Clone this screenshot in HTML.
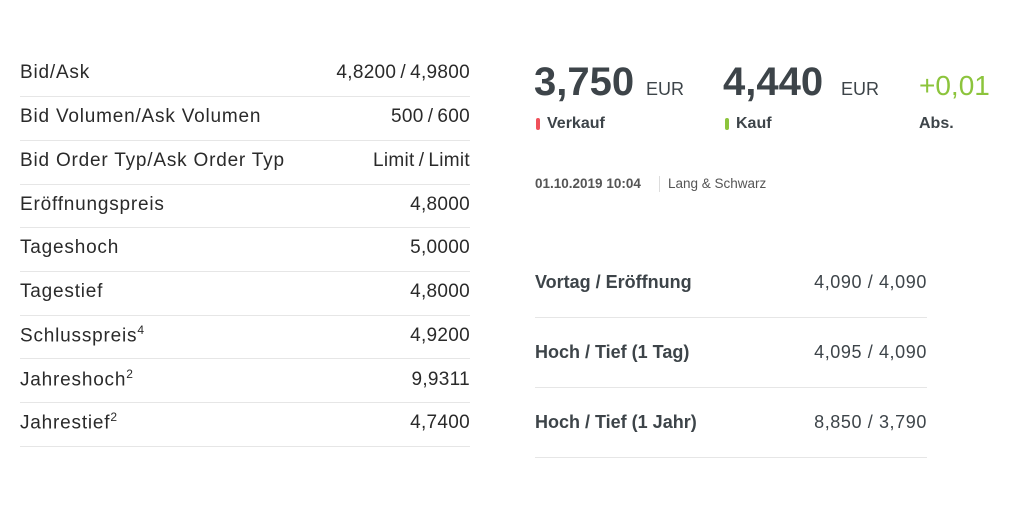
<!DOCTYPE html>
<html><head><meta charset="utf-8"><style>
body{margin:0;width:1024px;height:530px;background:#fff;position:relative;overflow:hidden;font-family:"Liberation Sans",sans-serif}
.a{position:absolute;white-space:nowrap}
.l{left:20px;font-size:19px;color:#2a2a2a;letter-spacing:0.8px}
.r{right:554px;font-size:19px;color:#2a2a2a;text-align:right;letter-spacing:0.3px}
.ln{position:absolute;height:1px;background:#e6e6e6}
.big{font-size:40px;font-weight:bold;color:#3d4449}
.eur{font-size:18px;color:#3d4449}
.lab{font-size:16px;font-weight:bold;color:#3d4449}
.rl{left:535px;font-size:18px;font-weight:bold;color:#3d4449}
.rv{right:97px;font-size:18px;color:#3d4449;letter-spacing:0.6px}
sup{font-size:12px}
</style></head><body>
<div class="a l" style="top:62px">Bid/Ask</div><div class="a r" style="top:62px">4,8200&#8201;/&#8201;4,9800</div>
<div class="ln" style="left:20px;width:450px;top:96px"></div>
<div class="a l" style="top:106px">Bid Volumen/Ask Volumen</div><div class="a r" style="top:106px">500&#8201;/&#8201;600</div>
<div class="ln" style="left:20px;width:450px;top:140px"></div>
<div class="a l" style="top:150px">Bid Order Typ/Ask Order Typ</div><div class="a r" style="top:150px">Limit&#8201;/&#8201;Limit</div>
<div class="ln" style="left:20px;width:450px;top:184px"></div>
<div class="a l" style="top:194px">Eröffnungspreis</div><div class="a r" style="top:194px">4,8000</div>
<div class="ln" style="left:20px;width:450px;top:227px"></div>
<div class="a l" style="top:237px">Tageshoch</div><div class="a r" style="top:237px">5,0000</div>
<div class="ln" style="left:20px;width:450px;top:271px"></div>
<div class="a l" style="top:281px">Tagestief</div><div class="a r" style="top:281px">4,8000</div>
<div class="ln" style="left:20px;width:450px;top:315px"></div>
<div class="a l" style="top:323px">Schlusspreis<sup>4</sup></div><div class="a r" style="top:325px">4,9200</div>
<div class="ln" style="left:20px;width:450px;top:358px"></div>
<div class="a l" style="top:367px">Jahreshoch<sup>2</sup></div><div class="a r" style="top:369px">9,9311</div>
<div class="ln" style="left:20px;width:450px;top:402px"></div>
<div class="a l" style="top:410px">Jahrestief<sup>2</sup></div><div class="a r" style="top:412px">4,7400</div>
<div class="ln" style="left:20px;width:450px;top:446px"></div>

<div class="a big" style="left:534px;top:60px">3,750</div><div class="a eur" style="left:646px;top:79px">EUR</div>
<div class="a big" style="left:723px;top:60px">4,440</div><div class="a eur" style="left:841px;top:79px">EUR</div>
<div class="a" style="left:919px;top:70px;font-size:28px;color:#8cc43c">+0,01</div>
<div class="a" style="left:536px;top:118px;width:4px;height:12px;border-radius:2px;background:#f0505a"></div>
<div class="a lab" style="left:547px;top:115px">Verkauf</div>
<div class="a" style="left:725px;top:118px;width:4px;height:12px;border-radius:2px;background:#8cc43c"></div>
<div class="a lab" style="left:736px;top:115px">Kauf</div>
<div class="a lab" style="left:919px;top:115px">Abs.</div>
<div class="a" style="left:535px;top:176px;font-size:13.5px;font-weight:bold;color:#555">01.10.2019 10:04</div>
<div class="a" style="left:659px;top:176px;width:1px;height:16px;background:#ddd"></div>
<div class="a" style="left:668px;top:176px;font-size:13.5px;color:#555">Lang &amp; Schwarz</div>

<div class="a rl" style="top:272px">Vortag / Eröffnung</div><div class="a rv" style="top:272px">4,090 / 4,090</div>
<div class="ln" style="left:535px;width:392px;top:317px"></div>
<div class="a rl" style="top:342px">Hoch / Tief (1 Tag)</div><div class="a rv" style="top:342px">4,095 / 4,090</div>
<div class="ln" style="left:535px;width:392px;top:387px"></div>
<div class="a rl" style="top:412px">Hoch / Tief (1 Jahr)</div><div class="a rv" style="top:412px">8,850 / 3,790</div>
<div class="ln" style="left:535px;width:392px;top:457px"></div>
</body></html>
